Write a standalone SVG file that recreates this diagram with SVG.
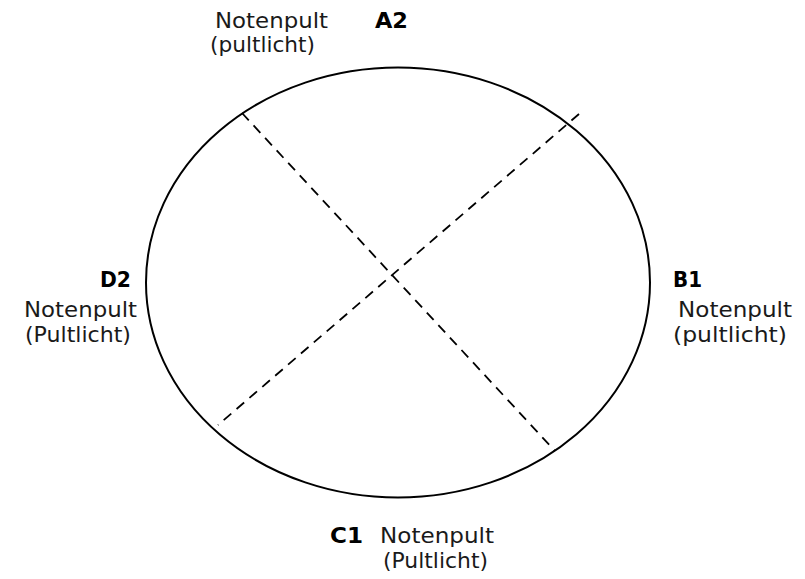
<svg xmlns="http://www.w3.org/2000/svg" width="805" height="579" viewBox="0 0 805 579">
<style>
.t{font-family:"DejaVu Sans","Liberation Sans",sans-serif;font-size:21px;fill:#1a1a1a}
.b{font-family:"DejaVu Sans","Liberation Sans",sans-serif;font-size:21px;font-weight:bold;fill:#000}
.d{stroke:#000;stroke-width:1.8;stroke-dasharray:10 7;fill:none}
</style>
<rect width="805" height="579" fill="#fff"/>
<g id="table">
<ellipse cx="398" cy="282.5" rx="252" ry="215" fill="none" stroke="#000" stroke-width="2"/>
</g>
<g id="connectors">
<line class="d" x1="242" y1="113" x2="555" y2="451"/>
<line class="d" x1="579" y1="114" x2="218" y2="425"/>
</g>
<g id="A2">
<text class="b" x="375" y="28" textLength="33" lengthAdjust="spacingAndGlyphs">A2</text>
<text class="t" x="215" y="28" textLength="113" lengthAdjust="spacingAndGlyphs">Notenpult</text>
<text class="t" x="210" y="52" textLength="105" lengthAdjust="spacingAndGlyphs">(pultlicht)</text>
</g>
<g id="B1">
<text class="b" x="673" y="287" textLength="29" lengthAdjust="spacingAndGlyphs">B1</text>
<text class="t" x="678" y="317" textLength="114" lengthAdjust="spacingAndGlyphs">Notenpult</text>
<text class="t" x="673" y="342" textLength="114" lengthAdjust="spacingAndGlyphs">(pultlicht)</text>
</g>
<g id="C1">
<text class="b" x="330" y="543" textLength="33" lengthAdjust="spacingAndGlyphs">C1</text>
<text class="t" x="380" y="543" textLength="114" lengthAdjust="spacingAndGlyphs">Notenpult</text>
<text class="t" x="383" y="568" textLength="105" lengthAdjust="spacingAndGlyphs">(Pultlicht)</text>
</g>
<g id="D2">
<text class="b" x="100" y="287" textLength="31" lengthAdjust="spacingAndGlyphs">D2</text>
<text class="t" x="24" y="317" textLength="113" lengthAdjust="spacingAndGlyphs">Notenpult</text>
<text class="t" x="25" y="342" textLength="106" lengthAdjust="spacingAndGlyphs">(Pultlicht)</text>
</g>
</svg>
